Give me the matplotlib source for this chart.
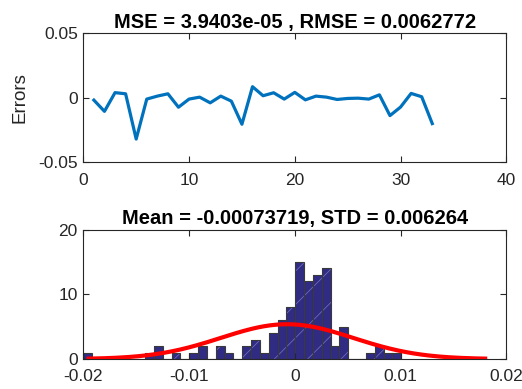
import numpy as np
import matplotlib.pyplot as plt

plt.rcParams['font.family'] = ['Liberation Sans', 'DejaVu Sans']

# top panel: prediction errors per sample
sample_idx = list(range(1, 34))
errors = [-0.0018, -0.0105, 0.0040, 0.0031, -0.0320, -0.0010, 0.0013, 0.0031,
          -0.0073, -0.0010, 0.0005, -0.0039, 0.0013, -0.0026, -0.0205, 0.0086,
          0.0016, 0.0039, -0.0010, 0.0042, -0.0016, 0.0013, 0.0005, -0.0013,
          -0.0005, -0.0003, -0.0010, 0.0023, -0.0138, -0.0072, 0.0034, 0.0008,
          -0.0200]

# bottom panel: histogram of errors
bin_left = -0.0200
bin_width = 0.000835
hist_counts = [1, 0, 0, 0, 0, 0, 0, 1, 2, 0, 1, 0, 1, 2, 0, 2, 1, 0, 2, 3, 1, 4,
               6, 8, 15, 12, 13, 14, 2, 5, 0, 0, 1, 2, 1, 1]
err_mean = -0.00073719
err_std = 0.006264
curve_range = (-0.0195, 0.0180)

mse_title = 'MSE = 3.9403e-05 , RMSE = 0.0062772'
hist_title = 'Mean = -0.00073719, STD = 0.006264'

fig = plt.figure(figsize=(5.22, 3.89), dpi=100)
ax1 = fig.add_axes([0.1596, 0.5828, 0.8103, 0.3316])
ax2 = fig.add_axes([0.1596, 0.0771, 0.8103, 0.3329])

dark = '#262626'
for ax in (ax1, ax2):
    for s in ax.spines.values():
        s.set_color(dark)
        s.set_linewidth(0.8)
    ax.tick_params(direction='in', length=4, width=0.8, top=True, right=True,
                   labelsize=12.5, colors=dark, pad=4)
    ax.tick_params(axis='x', pad=7.5)

ax1.plot(sample_idx, errors, color='#0072BD', lw=2.3)
ax1.set_xlim(0, 40)
ax1.set_ylim(-0.05, 0.05)
ax1.set_xticks([0, 10, 20, 30, 40])
ax1.set_yticks([-0.05, 0, 0.05])
ax1.set_yticklabels(['-0.05', '0', '0.05'])
ax1.set_ylabel('Errors', fontsize=13.5, color=dark, labelpad=7)
ax1.set_title(mse_title, fontsize=14.5, fontweight='bold', pad=4)

edges = bin_left + bin_width * np.arange(len(hist_counts) + 1)
plt.rcParams['hatch.linewidth'] = 0.5
ax2.hist(edges[:-1], bins=edges, weights=hist_counts, facecolor='#302C84',
         edgecolor='#7A76B8', hatch='/', lw=0)
ax2.hist(edges[:-1], bins=edges, weights=hist_counts, fill=False,
         edgecolor='#3a3a3a', lw=0.8)

xs = np.linspace(curve_range[0], curve_range[1], 200)
area = sum(hist_counts) * bin_width
ys = area / (err_std * np.sqrt(2 * np.pi)) * np.exp(-0.5 * ((xs - err_mean) / err_std) ** 2)
ax2.plot(xs, ys, color='red', lw=3, zorder=3)

ax2.set_xlim(-0.02, 0.02)
ax2.set_ylim(0, 20)
ax2.set_xticks([-0.02, -0.01, 0, 0.01, 0.02])
ax2.set_xticklabels(['-0.02', '-0.01', '0', '0.01', '0.02'])
ax2.set_yticks([0, 10, 20])
ax2.set_title(hist_title, fontsize=14.5, fontweight='bold', pad=4)

plt.savefig('out.png', dpi=100)
